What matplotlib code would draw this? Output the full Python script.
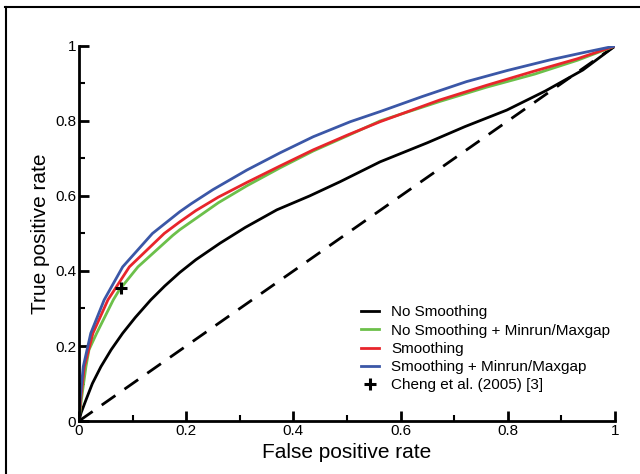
import matplotlib
matplotlib.use('Agg')
import matplotlib.pyplot as plt
from matplotlib.lines import Line2D
from matplotlib.ticker import MultipleLocator, FuncFormatter

plt.rcParams['font.family'] = ['Liberation Sans', 'DejaVu Sans']

# ROC curves
x_ns = [0, 0.004, 0.013, 0.025, 0.041, 0.06, 0.0815, 0.105, 0.134, 0.16, 0.188, 0.218,
        0.263, 0.31, 0.369, 0.43, 0.487, 0.5616, 0.65, 0.72, 0.798, 0.87, 0.94, 1.0]
y_ns = [0, 0.022, 0.056, 0.1, 0.145, 0.19, 0.234, 0.276, 0.323, 0.36, 0.396, 0.43,
        0.474, 0.516, 0.563, 0.6, 0.638, 0.691, 0.742, 0.785, 0.829, 0.88, 0.936, 1.0]

x_nsm = [0, 0.0044, 0.013, 0.0187, 0.033, 0.064, 0.075, 0.11, 0.175, 0.188, 0.218, 0.26,
         0.313, 0.375, 0.437, 0.5, 0.5616, 0.673, 0.76, 0.85, 0.93, 1.0]
y_nsm = [0, 0.056, 0.145, 0.19, 0.234, 0.323, 0.349, 0.411, 0.495, 0.51, 0.54, 0.582,
         0.627, 0.675, 0.72, 0.76, 0.80, 0.852, 0.89, 0.925, 0.962, 1.0]

x_s = [0, 0.003, 0.01, 0.026, 0.054, 0.094, 0.159, 0.188, 0.218, 0.26, 0.313, 0.375,
       0.437, 0.5, 0.5616, 0.673, 0.76, 0.847, 0.93, 1.0]
y_s = [0, 0.056, 0.145, 0.234, 0.323, 0.411, 0.5, 0.531, 0.561, 0.597, 0.636, 0.68,
       0.723, 0.762, 0.798, 0.856, 0.895, 0.932, 0.966, 1.0]

x_sm = [0, 0.002, 0.008, 0.022, 0.047, 0.0815, 0.137, 0.188, 0.209, 0.25, 0.313, 0.375,
        0.437, 0.506, 0.5616, 0.64, 0.723, 0.8, 0.879, 0.94, 1.0]
y_sm = [0, 0.056, 0.145, 0.234, 0.323, 0.411, 0.5, 0.558, 0.579, 0.617, 0.669, 0.715,
        0.758, 0.798, 0.825, 0.865, 0.905, 0.935, 0.963, 0.982, 1.0]

diag = [0, 1]
cheng_x = [0.078]
cheng_y = [0.355]

fig = plt.figure(figsize=(6.4, 4.74), dpi=100)
ax = fig.add_axes([0.1234, 0.1118, 0.8376, 0.7912])

ax.plot(diag, diag, color='black', lw=2, dashes=(6, 4))
ax.plot(x_ns, y_ns, color='black', lw=2, label='No Smoothing')
ax.plot(x_nsm, y_nsm, color='#6cc04a', lw=2, label='No Smoothing + Minrun/Maxgap')
ax.plot(x_s, y_s, color='#e8252b', lw=2, label='Smoothing')
ax.plot(x_sm, y_sm, color='#3b57a7', lw=2, label='Smoothing + Minrun/Maxgap')
ax.plot(cheng_x, cheng_y, '+', color='black', ms=8, mew=2.2, linestyle='none',
        label='Cheng et al. (2005) [3]')

ax.set_xlim(0, 1)
ax.set_ylim(0, 1)
for s in ['top', 'right']:
    ax.spines[s].set_visible(False)
for s in ['left', 'bottom']:
    ax.spines[s].set_linewidth(2)

fmt = FuncFormatter(lambda v, p: '%g' % round(v, 2))
ax.xaxis.set_major_locator(MultipleLocator(0.2))
ax.xaxis.set_minor_locator(MultipleLocator(0.1))
ax.yaxis.set_major_locator(MultipleLocator(0.2))
ax.yaxis.set_minor_locator(MultipleLocator(0.1))
ax.xaxis.set_major_formatter(fmt)
ax.yaxis.set_major_formatter(fmt)
ax.tick_params(which='major', direction='in', length=7, width=2, labelsize=11, pad=2)
ax.tick_params(which='minor', direction='in', length=4, width=1.5)

ax.set_xlabel('False positive rate', fontsize=15, labelpad=4)
ax.set_ylabel('True positive rate', fontsize=15, labelpad=4)

ax.legend(loc='upper left', bbox_to_anchor=(0.5, 0.345), frameon=False,
          fontsize=11, handlelength=1.2, handletextpad=0.8, labelspacing=0.28)

# partial outer frame (top and left edges)
fig.add_artist(Line2D([0.008, 1.0], [0.985, 0.985], transform=fig.transFigure,
                      color='black', lw=1.5))
fig.add_artist(Line2D([0.009, 0.009], [0.0, 0.985], transform=fig.transFigure,
                      color='black', lw=1.5))

fig.savefig('out.png', dpi=100)
